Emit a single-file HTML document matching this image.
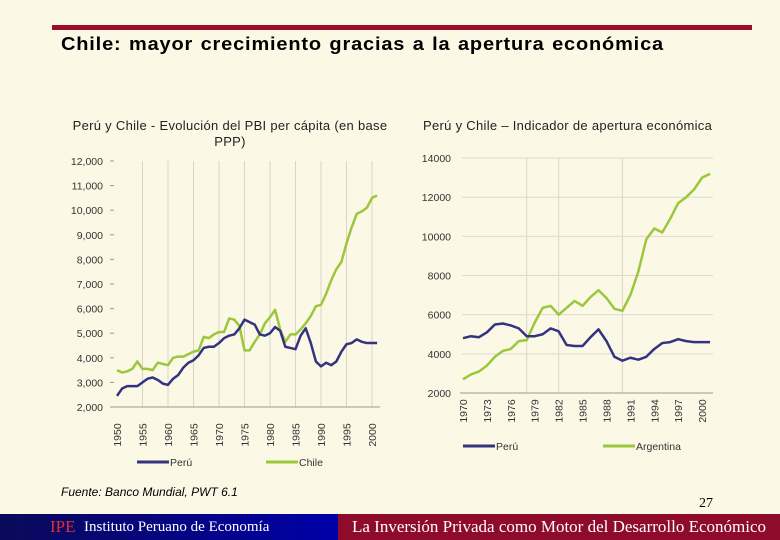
<!DOCTYPE html>
<html><head><meta charset="utf-8"><style>
body{margin:0;width:780px;height:540px;background:#fcf8e6;position:relative;overflow:hidden;font-family:"Liberation Sans",Arial,sans-serif}
.abs{position:absolute}
</style></head><body>
<div class="abs" style="left:52px;top:25px;width:700px;height:5px;background:#9b0d2c"></div>
<div class="abs" style="left:61px;top:34px;font-size:18px;letter-spacing:0.75px;word-spacing:1px;font-weight:bold;color:#000;white-space:nowrap;transform:scaleX(1.11);transform-origin:left">Chile: mayor crecimiento gracias a la apertura económica</div>
<div class="abs" style="left:60px;top:118px;width:340px;text-align:center;font-size:13px;letter-spacing:0.3px;color:#222;line-height:16px">Perú y Chile - Evolución del PBI per cápita (en base PPP)</div>
<div class="abs" style="left:423px;top:118px;font-size:13px;letter-spacing:0.3px;color:#222;white-space:nowrap">Perú y Chile – Indicador de apertura económica</div>
<svg class="abs" style="left:0;top:0" width="780" height="540" id="svg"></svg>
<div class="abs" style="left:61px;top:485px;font-size:12px;font-style:italic;color:#000">Fuente: Banco Mundial, PWT 6.1</div>
<div class="abs" style="left:699px;top:496px;font-size:14px;font-family:'Liberation Serif',serif">27</div>
<div class="abs" style="left:0;top:514px;width:338px;height:26px;background:linear-gradient(90deg,#0a0a5a,#0000a8)"><span style="position:absolute;left:50px;top:3px;font-family:'Liberation Serif',serif;font-size:17px;color:#e23030">IPE</span><span style="position:absolute;left:84px;top:5px;font-family:'Liberation Serif',serif;font-size:15px;color:#fff;white-space:nowrap">Instituto Peruano de Economía</span></div>
<div class="abs" style="left:338px;top:514px;width:442px;height:26px;background:#8e0b2c"><span style="position:absolute;left:14px;top:3px;font-family:'Liberation Serif',serif;font-size:17px;color:#fff;white-space:nowrap">La Inversión Privada como Motor del Desarrollo Económico</span></div>
<script>
const years1=[1950,1951,1952,1953,1954,1955,1956,1957,1958,1959,1960,1961,1962,1963,1964,1965,1966,1967,1968,1969,1970,1971,1972,1973,1974,1975,1976,1977,1978,1979,1980,1981,1982,1983,1984,1985,1986,1987,1988,1989,1990,1991,1992,1993,1994,1995,1996,1997,1998,1999,2000,2001];
const peru1=[2450,2750,2850,2850,2850,3000,3150,3200,3100,2950,2900,3150,3300,3600,3800,3900,4100,4400,4450,4450,4600,4800,4900,4950,5200,5550,5450,5350,4950,4900,5000,5250,5100,4450,4400,4350,4900,5200,4600,3850,3650,3800,3700,3850,4250,4550,4600,4750,4650,4600,4600,4600];
const chile1=[3500,3400,3450,3550,3850,3550,3550,3500,3800,3750,3700,4000,4050,4050,4150,4250,4300,4850,4800,4950,5050,5050,5600,5550,5300,4300,4300,4650,4950,5400,5650,5950,5150,4650,4950,4950,5150,5400,5700,6100,6150,6600,7150,7600,7900,8650,9300,9850,9950,10100,10500,10600];
const yTicks1=[2000,3000,4000,5000,6000,7000,8000,9000,10000,11000,12000];
const xTicks1=[1950,1955,1960,1965,1970,1975,1980,1985,1990,1995,2000];
const years2=[1970,1971,1972,1973,1974,1975,1976,1977,1978,1979,1980,1981,1982,1983,1984,1985,1986,1987,1988,1989,1990,1991,1992,1993,1994,1995,1996,1997,1998,1999,2000,2001];
const peru2=[4800,4900,4850,5100,5500,5550,5450,5300,4900,4900,5000,5300,5150,4450,4400,4400,4850,5250,4650,3850,3650,3800,3700,3850,4250,4550,4600,4750,4650,4600,4600,4600];
const arg2=[2700,2950,3100,3400,3850,4150,4250,4650,4700,5600,6350,6450,6000,6350,6700,6450,6900,7250,6850,6300,6200,7000,8200,9850,10400,10200,10900,11700,12000,12400,13000,13200];
const yTicks2=[2000,4000,6000,8000,10000,12000,14000];
const xTicks2=[1970,1973,1976,1979,1982,1985,1988,1991,1994,1997,2000];
const svg=document.getElementById('svg');
const NS='http://www.w3.org/2000/svg';
function mk(t,a,p){const e=document.createElementNS(NS,t);for(const k in a)e.setAttribute(k,a[k]);(p||svg).appendChild(e);return e;}
const x1=v=>117+(v-1950)*5.1, y1=v=>407-(v-2000)*0.0246;
const x2=v=>463+(v-1970)*7.97, y2=v=>393-(v-2000)*0.01958;
xTicks1.forEach(t=>{if(t>1950){const l=mk('line',{x1:x1(t),x2:x1(t),y1:y1(12000),y2:y1(2000),stroke:'#d8d6cc','stroke-width':1});}});
yTicks1.forEach(t=>{const l=mk('line',{x1:110,x2:114,y1:y1(t),y2:y1(t),stroke:'#999'});
const tx=mk('text',{x:103,y:y1(t)+4,'text-anchor':'end','font-size':10.5,fill:'#333','font-family':'Liberation Sans'});tx.textContent=t.toLocaleString('en-US');});
mk('line',{x1:112,x2:380,y1:y1(2000),y2:y1(2000),stroke:'#999'});
xTicks1.forEach(t=>{const tx=mk('text',{x:0,y:0,transform:`translate(${x1(t)+4},${435}) rotate(-90)`,'text-anchor':'middle','font-size':10.5,fill:'#333','font-family':'Liberation Sans'});tx.textContent=t;});
[1978,1982,1990].forEach(t=>{const l=mk('line',{x1:x2(t),x2:x2(t),y1:y2(14000),y2:y2(2000),stroke:'#d8d6cc'});});
yTicks2.forEach(t=>{if(t>2000){const g=mk('line',{x1:462,x2:713,y1:y2(t),y2:y2(t),stroke:'#dcdad0'});}
const tx=mk('text',{x:451,y:y2(t)+4,'text-anchor':'end','font-size':10.5,fill:'#333','font-family':'Liberation Sans'});tx.textContent=t;});
mk('line',{x1:460,x2:713,y1:y2(2000),y2:y2(2000),stroke:'#999'});
xTicks2.forEach(t=>{const tx=mk('text',{x:0,y:0,transform:`translate(${x2(t)+4},${411}) rotate(-90)`,'text-anchor':'middle','font-size':10.5,fill:'#333','font-family':'Liberation Sans'});tx.textContent=t;});
function line(xs,ys,xf,yf,col,name){const p=mk('polyline',{points:xs.map((x,i)=>xf(x)+','+yf(ys[i])).join(' '),fill:'none',stroke:col,'stroke-width':2.5,'stroke-linejoin':'round'});}
line(years1,chile1,x1,y1,'#9cc73c','chile-pbi-line');
line(years1,peru1,x1,y1,'#333380','peru-pbi-line');
line(years2,arg2,x2,y2,'#9cc73c','argentina-apertura-line');
line(years2,peru2,x2,y2,'#333380','peru-apertura-line');
function leg(x,y,col,label){const l=mk('line',{x1:x,x2:x+32,y1:y,y2:y,stroke:col,'stroke-width':3});
const t=mk('text',{x:x+33,y:y+4,'font-size':10.5,fill:'#333','font-family':'Liberation Sans'});t.textContent=label;}
leg(137,462,'#333380','Perú');leg(266,462,'#9cc73c','Chile');
leg(463,446,'#333380','Perú');leg(603,446,'#9cc73c','Argentina');
</script>
</body></html>
